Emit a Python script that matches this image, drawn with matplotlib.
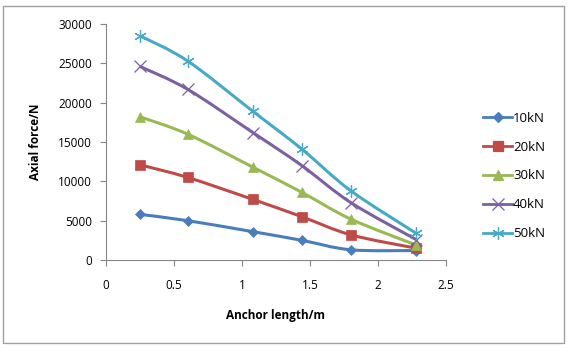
import matplotlib.pyplot as plt
from matplotlib.path import Path
from matplotlib.patches import PathPatch, Rectangle
import numpy as np

# anchor length (m) and axial force (N) per pretension load
anchor_length = [0.25, 0.60, 1.08, 1.44, 1.80, 2.28]
force_10kn = [5800, 5000, 3600, 2500, 1300, 1200]
force_20kn = [12100, 10500, 7700, 5500, 3200, 1500]
force_30kn = [18200, 16000, 11800, 8600, 5200, 1900]
force_40kn = [24600, 21700, 16200, 12000, 7300, 2600]
force_50kn = [28500, 25300, 18900, 14100, 8800, 3400]
labels = ["10kN", "20kN", "30kN", "40kN", "50kN"]

colors = ["#4A7EBB", "#BE4B48", "#98B954", "#7D60A0", "#46AAC5"]
markers = ["D", "s", "^", "x", (6, 2, 0)]
msizes = [5, 7, 7, 8, 9]

plt.rcParams["font.family"] = ["Open Sans", "DejaVu Sans"]


def smooth_path(x, y):
    """Excel-style smoothed line as cubic bezier segments through the points."""
    x = np.asarray(x, float)
    y = np.asarray(y, float)
    verts = [(x[0], y[0])]
    codes = [Path.MOVETO]
    n = len(x)
    for i in range(n - 1):
        p0 = (x[max(i - 1, 0)], y[max(i - 1, 0)])
        p1 = (x[i], y[i])
        p2 = (x[i + 1], y[i + 1])
        p3 = (x[min(i + 2, n - 1)], y[min(i + 2, n - 1)])
        c1 = (p1[0] + (p2[0] - p0[0]) / 6, p1[1] + (p2[1] - p0[1]) / 6)
        c2 = (p2[0] - (p3[0] - p1[0]) / 6, p2[1] - (p3[1] - p1[1]) / 6)
        verts += [c1, c2, p2]
        codes += [Path.CURVE4] * 3
    return Path(verts, codes)


fig = plt.figure(figsize=(5.83, 3.48), dpi=100)
fig.patches.append(Rectangle((3 / 583, 5 / 348), 561 / 583, 337 / 348,
                             transform=fig.transFigure, fill=False,
                             edgecolor="#A0A0A0", linewidth=1))
ax = fig.add_axes([106 / 583, 1 - 260 / 348, 340 / 583, 236 / 348])

series = [force_10kn, force_20kn, force_30kn, force_40kn, force_50kn]
for vals, lab, c, m, ms in zip(series, labels, colors, markers, msizes):
    ax.add_patch(PathPatch(smooth_path(anchor_length, vals), fill=False,
                           edgecolor=c, linewidth=2.2))
    thin = m == "x" or isinstance(m, tuple)
    ax.plot(anchor_length, vals, color=c, marker=m, markersize=ms,
            markeredgewidth=0.9 if thin else 0.5,
            linestyle="none", label=lab)

# legend handles: line + marker
handles = [plt.Line2D([], [], color=c, marker=m, markersize=ms, linewidth=2,
                      markeredgewidth=0.9)
           for c, m, ms in zip(colors, markers, msizes)]
ax.legend(handles, labels, loc="center left", bbox_to_anchor=(1.075, 0.356),
          frameon=False, fontsize=9.5, handlelength=2.2, handletextpad=0.05,
          labelspacing=1.2)

ax.set_xlim(0, 2.5)
ax.set_ylim(0, 30000)
ax.set_xticks([0, 0.5, 1, 1.5, 2, 2.5])
ax.set_xticklabels(["0", "0.5", "1", "1.5", "2", "2.5"])
ax.set_yticks(range(0, 30001, 5000))
ax.tick_params(labelsize=8.5, length=4, color="#868686", pad=6)
ax.tick_params(axis="x", pad=10)
for s in ["top", "right"]:
    ax.spines[s].set_visible(False)
for s in ["left", "bottom"]:
    ax.spines[s].set_color("#868686")
ax.set_xlabel("Anchor length/m", fontsize=8.5, fontweight="bold", labelpad=12)
ax.set_ylabel("Axial force/N", fontsize=8.5, fontweight="bold", labelpad=12)

fig.savefig("out.png", dpi=100)
